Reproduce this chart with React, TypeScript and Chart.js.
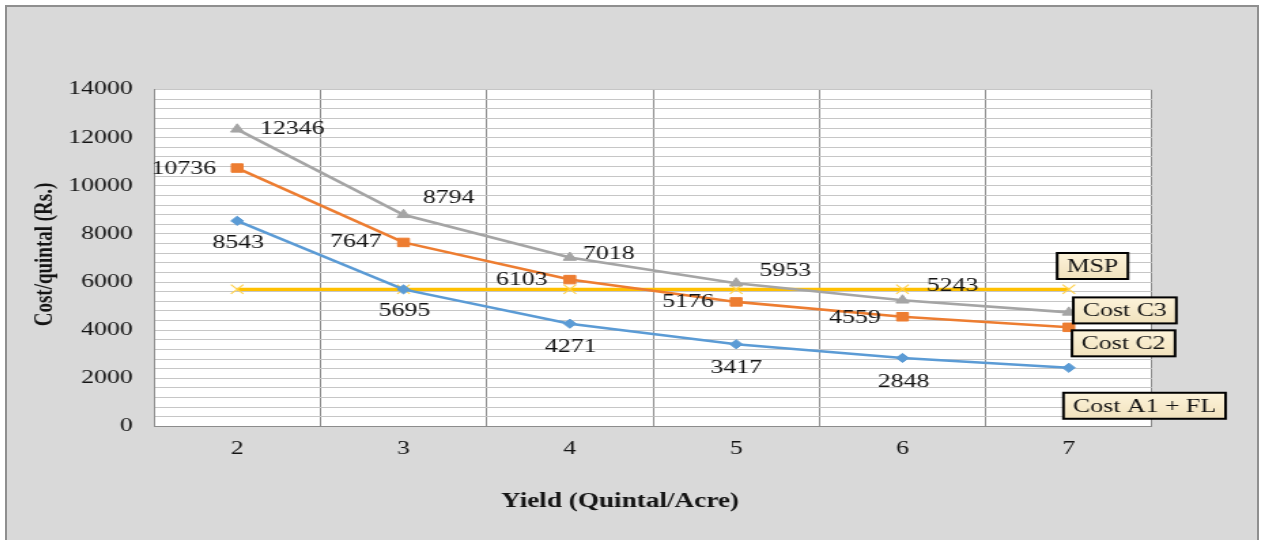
import React, { useEffect, useRef } from 'react';
import { Chart, registerables } from 'chart.js';

Chart.register(...registerables);

// ---- data ----
const yieldCategories = ['2', '3', '4', '5', '6', '7'];
const costC3 = [12346, 8794, 7018, 5953, 5243, 4740];
const costC2 = [10736, 7647, 6103, 5176, 4559, 4120];
const costA1FL = [8543, 5695, 4271, 3417, 2848, 2440];
const mspValues = [5700, 5700, 5700, 5700, 5700, 5700];
const seriesNames = ['Cost C3', 'Cost C2', 'Cost A1 + FL', 'MSP'];
const yMin = 0;
const yMax = 14000;
const yGridStep = 400;
const yLabelStep = 2000;
const xAxisTitle = 'Yield (Quintal/Acre)';
const yAxisTitle = 'Cost/quintal (Rs.)';

// ---- style ----
const STRETCH = 1.36;
const FONT = '"Liberation Serif", "Times New Roman", serif';
const TEXT_COLOR = '#141414';

// label offsets (screen px, relative to the point) per series / point
const valueLabelOffsets: (number[] | null)[][] = [
  [[55, 0], [45, -17], [39, -4], [49, -12], [50, -14], null],
  [[-53.5, 0.5], [-47.5, 0], [-48, 0], [-48, 0], [-47.5, 1.5], null],
  [[1, 22], [1, 22], [1, 23], [0, 24], [1, 24.5], null],
  [null, null, null, null, null, null],
];
// callout box centre offsets relative to the last point (screen px)
const calloutOffsets = [
  [56, -2],
  [54.7, 16],
  [75.7, 38],
  [23.7, -23.3],
];

const plotBgPlugin = {
  id: 'plotBg',
  beforeDraw(chart: any) {
    const { ctx, chartArea } = chart;
    ctx.save();
    ctx.fillStyle = '#ffffff';
    ctx.fillRect(chartArea.left, chartArea.top, chartArea.right - chartArea.left, chartArea.bottom - chartArea.top);
    ctx.restore();
  },
};

const labelsPlugin = {
  id: 'valueLabels',
  afterDatasetsDraw(chart: any) {
    const ctx = chart.ctx;
    ctx.save();
    chart.data.datasets.forEach((ds: any, di: number) => {
      const meta = chart.getDatasetMeta(di);
      ctx.font = `19px ${FONT}`;
      ctx.fillStyle = TEXT_COLOR;
      ctx.textAlign = 'center';
      ctx.textBaseline = 'middle';
      meta.data.forEach((pt: any, i: number) => {
        const off = valueLabelOffsets[di][i];
        if (!off) return;
        ctx.fillText(String(ds.data[i]), pt.x + off[0] / STRETCH, pt.y + off[1]);
      });
      const last = meta.data[meta.data.length - 1];
      const [bx, by] = calloutOffsets[di];
      const cx = last.x + bx / STRETCH;
      const cy = last.y + by;
      const tw = ctx.measureText(ds.label).width;
      const w = tw + 14;
      const h = 26;
      const x0 = cx - w / 2;
      const y0 = cy - h / 2;
      const g = ctx.createLinearGradient(0, y0, 0, y0 + h);
      g.addColorStop(0, '#fdf3da');
      g.addColorStop(1, '#f1e2bd');
      ctx.fillStyle = g;
      ctx.fillRect(x0, y0, w, h);
      ctx.strokeStyle = '#000000';
      ctx.lineWidth = 2;
      ctx.strokeRect(x0, y0, w, h);
      ctx.fillStyle = TEXT_COLOR;
      ctx.fillText(ds.label, cx, cy + 1);
    });
    ctx.restore();
  },
  afterDraw(chart: any) {
    const ctx = chart.ctx;
    ctx.save();
    ctx.fillStyle = TEXT_COLOR;
    ctx.font = `bold 20px ${FONT}`;
    ctx.textAlign = 'center';
    ctx.textBaseline = 'middle';
    ctx.fillText(xAxisTitle, 450.7, 494.7);
    ctx.font = `bold 19px ${FONT}`;
    ctx.translate(28.3, 247.5);
    ctx.rotate(-Math.PI / 2);
    ctx.fillText(yAxisTitle, 0, 0);
    ctx.restore();
  },
};

export default function App() {
  const canvasRef = useRef<HTMLCanvasElement | null>(null);

  useEffect(() => {
    if (!canvasRef.current) return;
    const common = { borderWidth: 2.6, tension: 0, pointBorderWidth: 1 };
    const chart = new Chart(canvasRef.current, {
      type: 'line',
      data: {
        labels: yieldCategories,
        datasets: [
          {
            ...common,
            label: seriesNames[0],
            data: costC3,
            borderColor: '#a5a5a5',
            backgroundColor: '#a5a5a5',
            pointStyle: 'triangle',
            pointRadius: 5.5,
          },
          {
            ...common,
            label: seriesNames[1],
            data: costC2,
            borderColor: '#ed7d31',
            backgroundColor: '#ed7d31',
            pointStyle: 'rect',
            pointRadius: 6,
          },
          {
            ...common,
            label: seriesNames[2],
            data: costA1FL,
            borderColor: '#5b9bd5',
            backgroundColor: '#5b9bd5',
            pointStyle: 'rectRot',
            pointRadius: 4.6,
          },
          {
            ...common,
            label: seriesNames[3],
            data: mspValues,
            borderColor: '#ffc000',
            backgroundColor: '#ffc000',
            borderWidth: 3.2,
            pointStyle: 'crossRot',
            pointRadius: 6.5,
            pointBorderColor: '#ffd24d',
            pointBorderWidth: 1.2,
          },
        ],
      },
      options: {
        animation: false,
        responsive: true,
        maintainAspectRatio: false,
        layout: { padding: { top: 82.5, right: 77.1, left: 0, bottom: 0 } },
        plugins: {
          legend: { display: false },
          tooltip: { enabled: false },
        },
        scales: {
          x: {
            type: 'category',
            offset: true,
            afterFit: (scale: any) => {
              scale.height = 120.5;
            },
            grid: { offset: true, color: '#8c8c8c', lineWidth: 1, drawTicks: false },
            border: { display: true, color: '#8c8c8c', width: 1 },
            ticks: { color: TEXT_COLOR, font: { family: FONT, size: 19 }, padding: 11 },
          },
          y: {
            type: 'linear',
            min: yMin,
            max: yMax,
            afterFit: (scale: any) => {
              scale.width = 108.1;
            },
            grid: { color: '#c6c6c6', lineWidth: 1, drawTicks: false },
            border: { display: true, color: '#8c8c8c', width: 1 },
            ticks: {
              stepSize: yGridStep,
              maxTicksLimit: 100,
              autoSkip: false,
              padding: 15.5,
              color: TEXT_COLOR,
              font: { family: FONT, size: 19 },
              callback: (v: any) => (Number(v) % yLabelStep === 0 ? String(v) : ''),
            },
          },
        },
      },
      plugins: [plotBgPlugin, labelsPlugin],
    } as any);
    return () => chart.destroy();
  }, []);

  return (
    <div
      style={{
        position: 'fixed',
        left: 5,
        top: 5,
        width: 1250,
        height: 540,
        border: '2px solid #8f8f8f',
        background: '#d9d9d9',
        overflow: 'hidden',
      }}
    >
      <div
        style={{
          position: 'relative',
          width: 919,
          height: 540,
          transform: `scaleX(${STRETCH})`,
          transformOrigin: '0 0',
        }}
      >
        <canvas ref={canvasRef} />
      </div>
    </div>
  );
}
